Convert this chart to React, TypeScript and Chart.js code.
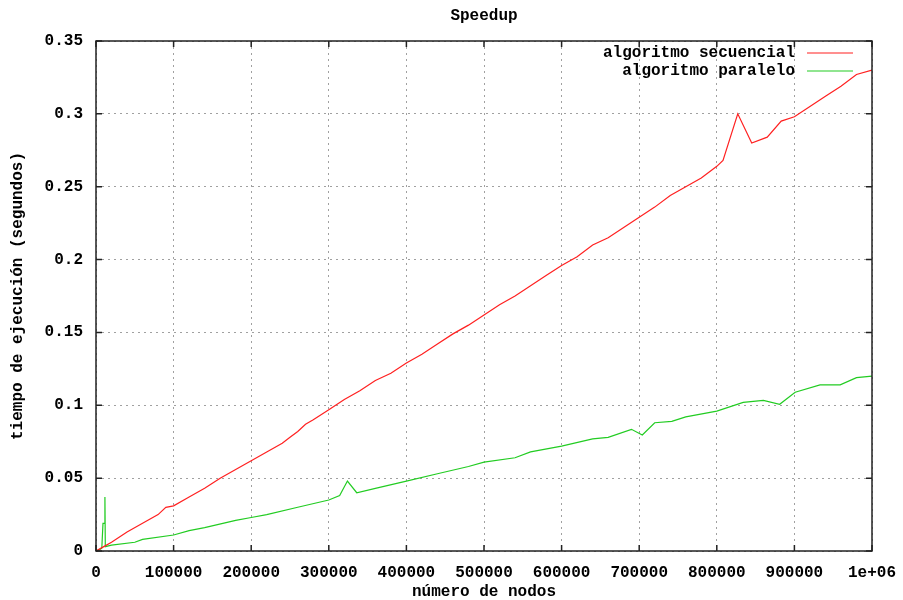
import React, { useEffect, useRef } from "react";
import { Chart, registerables } from "chart.js";

Chart.register(...registerables);

const chartTitle = "Speedup";
const xAxisTitle = "número de nodos";
const yAxisTitle = "tiempo de ejecución (segundos)";
const seriesNames = ["algoritmo secuencial", "algoritmo paralelo"];
const seriesColors = ["#ff2020", "#22cc22"];

const xTickLabels = ["0", "100000", "200000", "300000", "400000", "500000", "600000", "700000", "800000", "900000", "1e+06"];
const yTickLabels = ["0", "0.05", "0.1", "0.15", "0.2", "0.25", "0.3", "0.35"];

const seqX = [0, 10000, 20000, 40000, 60000, 80000, 90000, 100000, 120000, 140000, 160000, 180000, 200000, 220000, 240000, 250000, 260000, 270000, 280000, 300000, 320000, 340000, 360000, 380000, 400000, 420000, 440000, 460000, 480000, 500000, 520000, 540000, 560000, 580000, 600000, 620000, 640000, 660000, 680000, 700000, 720000, 740000, 760000, 780000, 800000, 808000, 827000, 845000, 865000, 883000, 900000, 920000, 940000, 960000, 980000, 1000000];
const seqY = [0, 0.003, 0.006, 0.013, 0.019, 0.025, 0.030, 0.031, 0.037, 0.043, 0.050, 0.056, 0.062, 0.068, 0.074, 0.078, 0.082, 0.087, 0.090, 0.097, 0.104, 0.110, 0.117, 0.122, 0.129, 0.135, 0.142, 0.149, 0.155, 0.162, 0.169, 0.175, 0.182, 0.189, 0.196, 0.202, 0.210, 0.215, 0.222, 0.229, 0.236, 0.244, 0.250, 0.256, 0.264, 0.268, 0.300, 0.280, 0.284, 0.295, 0.298, 0.305, 0.312, 0.319, 0.327, 0.330];

const parX = [0, 5000, 7500, 9000, 11000, 11500, 12000, 20000, 50000, 60000, 100000, 120000, 140000, 180000, 200000, 220000, 260000, 300000, 314000, 324000, 336000, 360000, 400000, 440000, 480000, 500000, 540000, 560000, 600000, 640000, 660000, 690000, 704000, 720000, 742000, 760000, 800000, 834000, 860000, 881000, 901000, 933000, 959000, 980000, 1000000];
const parY = [0, 0.001, 0.002, 0.019, 0.019, 0.037, 0.003, 0.004, 0.006, 0.008, 0.011, 0.014, 0.016, 0.021, 0.023, 0.025, 0.030, 0.035, 0.038, 0.048, 0.040, 0.043, 0.048, 0.053, 0.058, 0.061, 0.064, 0.068, 0.072, 0.077, 0.078, 0.0835, 0.0796, 0.088, 0.089, 0.092, 0.096, 0.102, 0.1034, 0.1007, 0.109, 0.114, 0.114, 0.119, 0.120];

const FONT = "bold 16px 'Liberation Mono', 'DejaVu Sans Mono', monospace";

const gnuplotPlugin = {
  id: "gnuplotDecor",
  afterDraw(chart: any) {
    const { ctx, chartArea } = chart;
    const { left, right, top, bottom } = chartArea;
    const xs = chart.scales.x;
    const ys = chart.scales.y;
    ctx.save();
    ctx.strokeStyle = "#222";
    ctx.lineWidth = 1.5;
    ctx.setLineDash([]);
    ctx.strokeRect(left, top, right - left, bottom - top);
    const tl = 6;
    xs.ticks.forEach((t: any) => {
      const px = xs.getPixelForValue(t.value);
      ctx.beginPath();
      ctx.moveTo(px, bottom);
      ctx.lineTo(px, bottom - tl);
      ctx.moveTo(px, top);
      ctx.lineTo(px, top + tl);
      ctx.stroke();
    });
    ys.ticks.forEach((t: any) => {
      const py = ys.getPixelForValue(t.value);
      ctx.beginPath();
      ctx.moveTo(left, py);
      ctx.lineTo(left + tl, py);
      ctx.moveTo(right, py);
      ctx.lineTo(right - tl, py);
      ctx.stroke();
    });
    ctx.fillStyle = "#000";
    ctx.font = FONT;
    ctx.textAlign = "center";
    ctx.textBaseline = "middle";
    const cx = (left + right) / 2;
    ctx.fillText(chartTitle, cx, 16);
    ctx.fillText(xAxisTitle, cx, 592);
    ctx.save();
    ctx.translate(18, (top + bottom) / 2);
    ctx.rotate(-Math.PI / 2);
    ctx.fillText(yAxisTitle, 0, 0);
    ctx.restore();
    ctx.textAlign = "right";
    chart.data.datasets.forEach((ds: any, i: number) => {
      const y = 53 + i * 18;
      ctx.fillStyle = "#000";
      ctx.fillText(ds.label, 795, y);
      ctx.strokeStyle = ds.borderColor;
      ctx.lineWidth = 1.2;
      ctx.beginPath();
      ctx.moveTo(807, y);
      ctx.lineTo(853, y);
      ctx.stroke();
    });
    ctx.restore();
  },
};

export default function App() {
  const ref = useRef<HTMLCanvasElement>(null);
  useEffect(() => {
    if (!ref.current) return;
    const tickFont = { family: "'Liberation Mono', 'DejaVu Sans Mono', monospace", size: 16, weight: "bold" as const };
    const chart = new Chart(ref.current, {
      type: "line",
      data: {
        datasets: [
          {
            label: seriesNames[0],
            data: seqX.map((x, i) => ({ x, y: seqY[i] })),
            borderColor: seriesColors[0],
            borderWidth: 1.2,
            pointRadius: 0,
            tension: 0,
          },
          {
            label: seriesNames[1],
            data: parX.map((x, i) => ({ x, y: parY[i] })),
            borderColor: seriesColors[1],
            borderWidth: 1.2,
            pointRadius: 0,
            tension: 0,
          },
        ],
      },
      options: {
        responsive: false,
        animation: false,
        layout: { padding: { top: 41, right: 31, left: 0, bottom: 0 } },
        plugins: { legend: { display: false }, title: { display: false }, tooltip: { enabled: false } },
        scales: {
          x: {
            type: "linear",
            min: 0,
            max: 1000000,
            afterFit: (s: any) => { s.height = 49; s.paddingRight = 0; s.paddingLeft = 0; },
            ticks: {
              stepSize: 100000,
              autoSkip: false,
              maxRotation: 0,
              padding: 12,
              color: "#000",
              font: tickFont,
              callback: (_v: any, i: number) => xTickLabels[i],
            },
            grid: { color: "#a0a0a0", drawTicks: false, tickLength: 0, lineWidth: 1 },
            border: { display: false, dash: [2, 4] },
          },
          y: {
            type: "linear",
            min: 0,
            max: 0.35,
            afterFit: (s: any) => { s.width = 96; s.paddingTop = 0; s.paddingBottom = 0; },
            ticks: {
              stepSize: 0.05,
              padding: 13,
              color: "#000",
              font: tickFont,
              callback: (_v: any, i: number) => yTickLabels[i],
            },
            grid: { color: "#a0a0a0", drawTicks: false, tickLength: 0, lineWidth: 1 },
            border: { display: false, dash: [2, 4] },
          },
        },
      },
      plugins: [gnuplotPlugin],
    });
    return () => chart.destroy();
  }, []);
  return (
    <div style={{ position: "absolute", left: 0, top: 0, width: 903, height: 600, background: "#fff" }}>
      <canvas ref={ref} width={903} height={600} />
    </div>
  );
}
